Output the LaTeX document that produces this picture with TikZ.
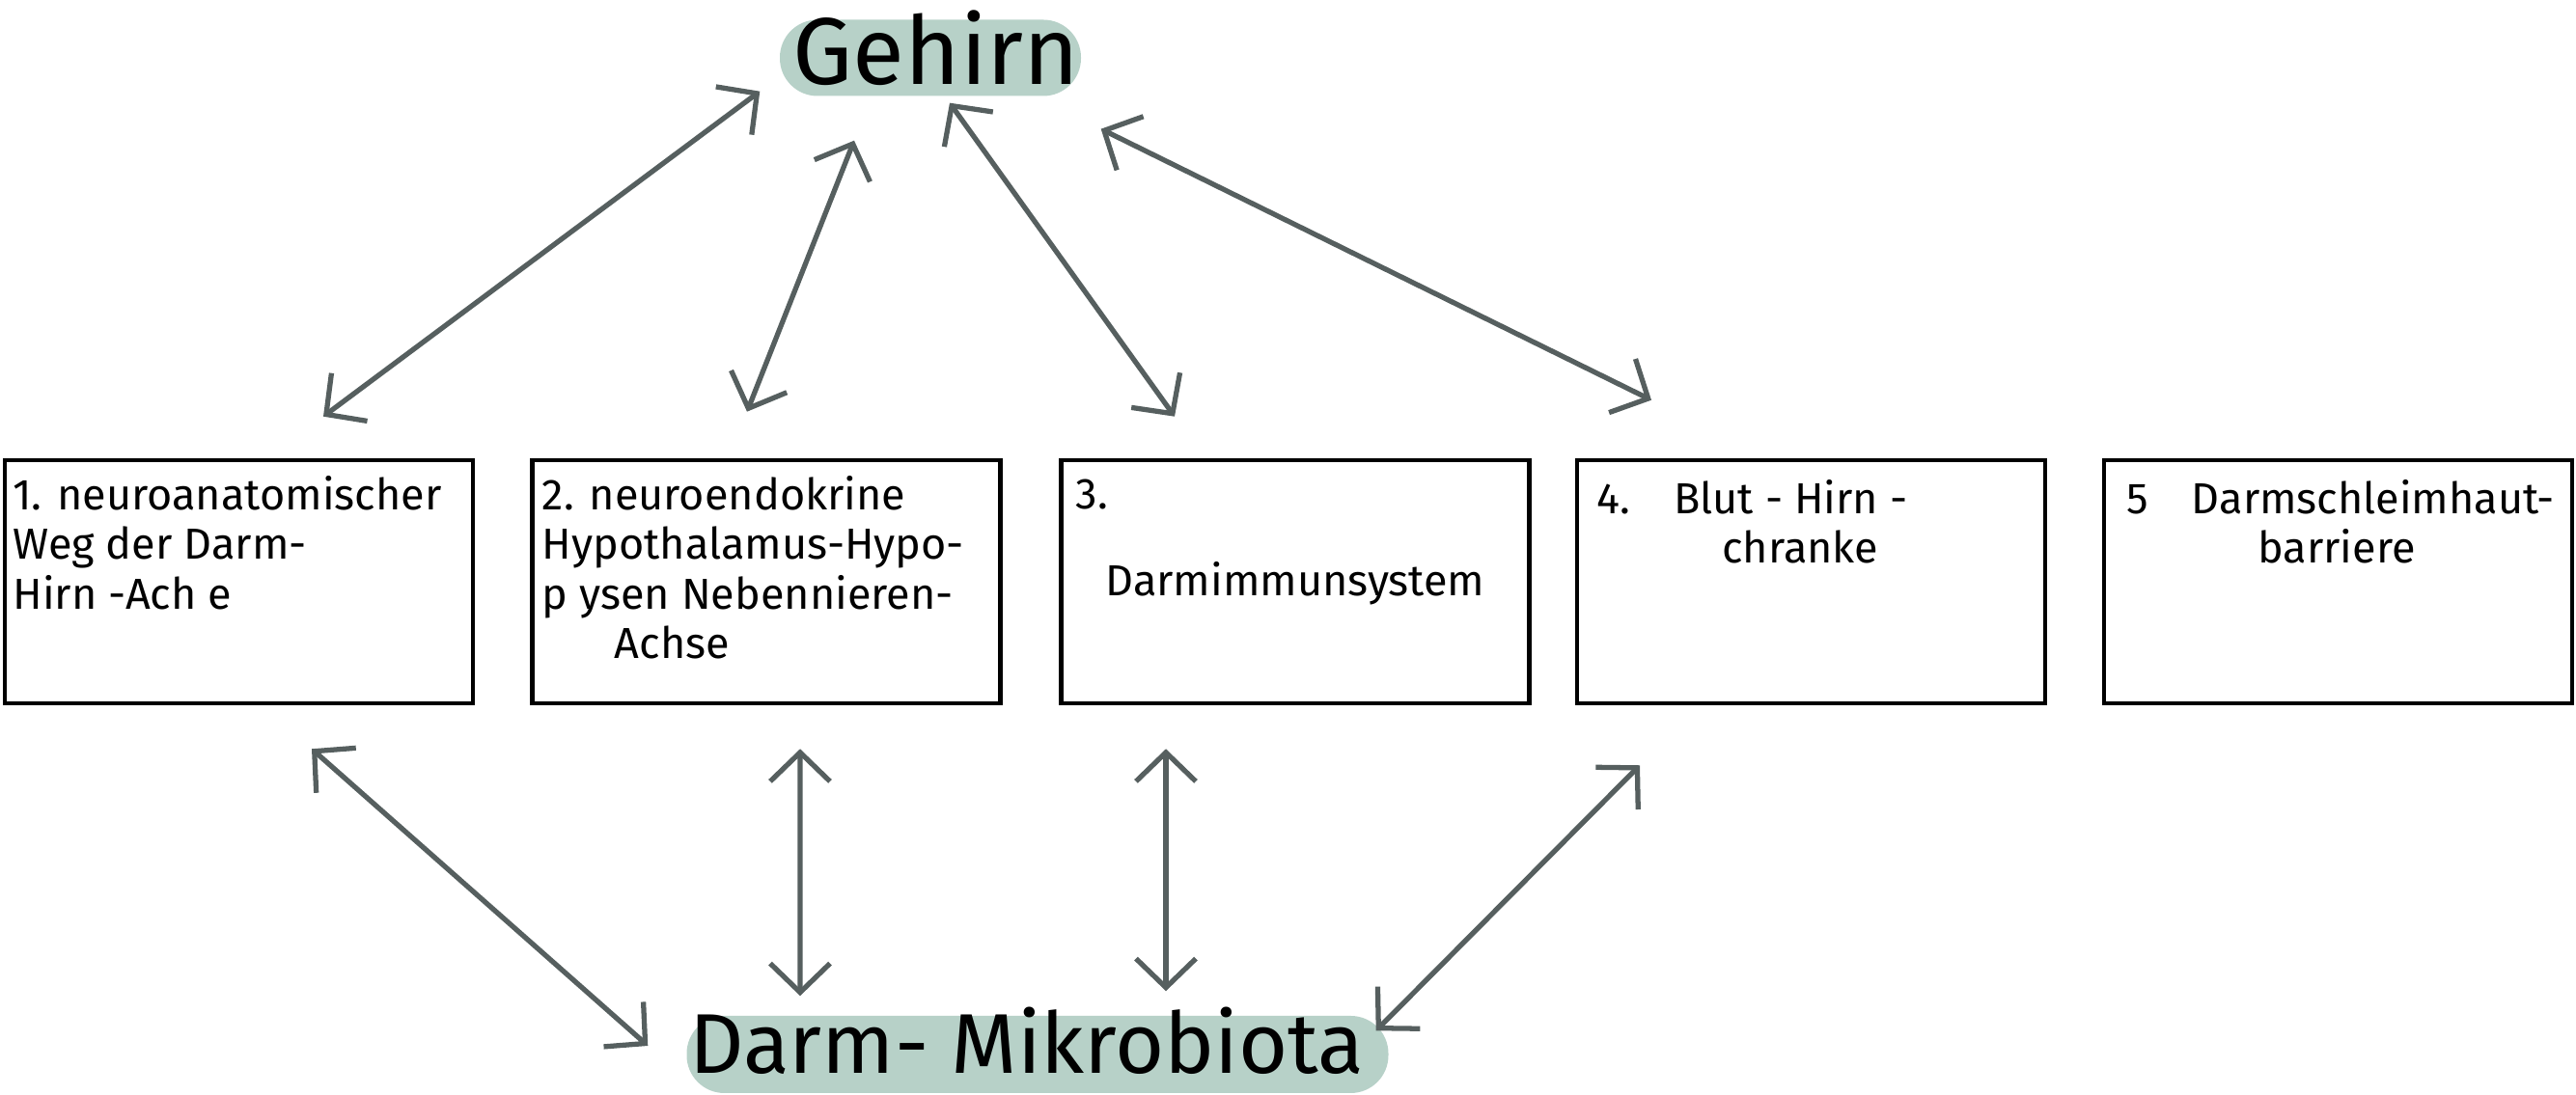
\documentclass[tikz,border=0pt]{standalone}
\usepackage{fontspec}
\setmainfont{Fira Sans}
\usepackage{xcolor}
\usetikzlibrary{positioning, calc, arrows.meta}
\definecolor{pillgreen}{HTML}{B7D1C8}
\definecolor{arrowgray}{HTML}{565F5F}

\begin{document}
\begin{tikzpicture}[>={Straight Barb[length=0.3cm,width=0.62cm]},
    box/.style={draw, line width=1.3pt, minimum width=4.85cm, minimum height=2.52cm, inner sep=0pt},
    boxtext/.style={anchor=north west, align=left, inner sep=0pt,
        font=\fontsize{12.8}{14.6}\selectfont},
    pill/.style={fill=pillgreen, rounded corners=0.39cm, minimum height=0.79cm, inner sep=0pt},
    bigtext/.style={font=\fontsize{25}{25}\selectfont, inner sep=0pt},
    biarrow/.style={<->, arrowgray, line width=1.5pt, line cap=round, line join=round}]
    \useasboundingbox (0,0) rectangle (26.69,11.35);

    % --- Gehirn and Darm-Mikrobiota ---
    \node[pill, minimum width=3.12cm] (gehirn) at (9.64,10.75) {};
    \node[bigtext, font=\fontsize{28}{28}\selectfont] (gehirntext) at (9.70,10.85) {Gehirn};
    \node[pill, minimum width=7.27cm, minimum height=0.80cm] (darm) at (10.75,0.42) {};
    \node[bigtext] (darmtext) at (10.64,0.56) {Darm- Mikrobiota};

    % --- Boxes ---
    \node[box] (b1) at (2.475,5.32) {};
    \node[box] (b2) at (7.94,5.32) {};
    \node[box] (b3) at (13.42,5.32) {};
    \node[box] (b4) at (18.765,5.32) {};
    \node[box] (b5) at (24.225,5.32) {};

    % --- Box texts ---
    \node[boxtext] (t1) at ($(b1.north west)+(0.10,-0.18)$)
        {1. neuroanatomischer\\Weg der Darm-\\Hirn -Ach e};
    \node[boxtext] (t2) at ($(b2.north west)+(0.12,-0.18)$)
        {2. neuroendokrine\\Hypothalamus-Hypo-\\p ysen Nebennieren-\\\hspace*{0.75cm}Achse};
    \node[boxtext] (t3) at ($(b3.north west)+(0.17,-0.22)$) {3.};
    \node[boxtext, anchor=center] (t3b) at ($(b3.center)+(0,-0.02)$) {Darmimmunsystem};
    \node[boxtext] (t4) at ($(b4.north west)+(0.22,-0.22)$)
        {4.\hspace{0.45cm}Blut - Hirn -\\\hspace*{1.3cm}chranke};
    \node[boxtext] (t5) at ($(b5.north west)+(0.25,-0.22)$)
        {5\hspace{0.45cm}Darmschleimhaut-\\\hspace*{1.36cm}barriere};

    % --- Arrows to Gehirn ---
    \draw[biarrow] ($(b1.north)+(0.875,0.43)$) -- ($(gehirn.south west)+(-0.20,0.055)$);
    \draw[biarrow] ($(b2.north)+(-0.20,0.48)$) -- ($(gehirn.south)+(-0.79,-0.455)$);
    \draw[biarrow] ($(b3.north)+(-1.25,0.43)$) -- ($(gehirn.south)+(0.20,-0.065)$);
    \draw[biarrow] ($(b4.north)+(-1.655,0.60)$) -- ($(gehirn.south east)+(0.20,-0.335)$);

    % --- Arrows to Darm-Mikrobiota ---
    \draw[biarrow] ($(b1.south)+(0.755,-0.45)$) -- ($(darm.west)+(-0.395,0.09)$);
    \draw[biarrow] ($(b2.south)+(0.35,-0.45)$) -- ($(darm.north)+(-2.46,0.20)$);
    \draw[biarrow] ($(b3.south)+(-1.34,-0.45)$) -- ($(darm.north)+(1.33,0.25)$);
    \draw[biarrow] ($(b4.south)+(-1.775,-0.62)$) -- ($(darm.north east)+(-0.135,-0.16)$);

\end{tikzpicture}
\end{document}
